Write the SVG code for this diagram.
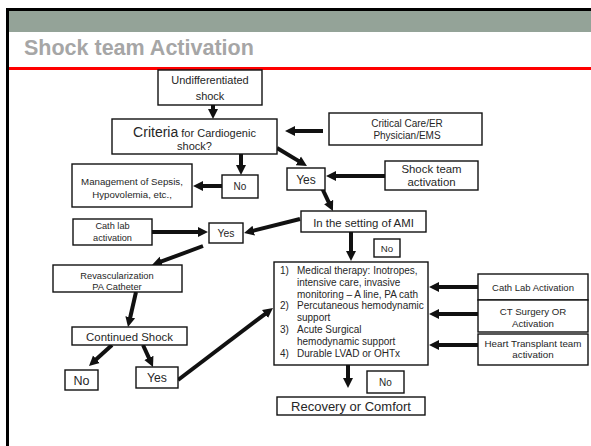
<svg xmlns="http://www.w3.org/2000/svg" width="591" height="446" viewBox="0 0 591 446">
<defs>
<marker id="ah" markerUnits="userSpaceOnUse" markerWidth="11" markerHeight="11" refX="2" refY="5" orient="auto" viewBox="0 0 11 10">
<path d="M0,0 L10,5 L0,10 z" fill="#111"/>
</marker>
</defs>
<style>
text{font-family:"Liberation Sans",Arial,sans-serif;fill:#262626;text-anchor:middle}
.box{fill:#fff;stroke:#111;stroke-width:1.4}
.c line{stroke:#111;stroke-width:4;marker-end:url(#ah)}
.lt{text-anchor:start}
</style>
<rect x="0" y="0" width="591" height="446" fill="#fff"/>
<rect x="6" y="8" width="585" height="3" fill="#000"/>
<rect x="6" y="8" width="3" height="438" fill="#000"/>
<rect x="9" y="11" width="582" height="21" fill="#94a398"/>
<text x="24" y="55" class="lt" style="font-size:21.5px;font-weight:bold;fill:#a6a6a6">Shock team Activation</text>
<rect x="9" y="67" width="582" height="3" fill="#ff0000"/>

<g class="c">
<line x1="213" y1="105" x2="213" y2="111"/>
<line x1="323" y1="131" x2="293" y2="131"/>
<line x1="277" y1="148" x2="300.1" y2="161.9"/>
<line x1="241" y1="154" x2="241" y2="167"/>
<line x1="222" y1="186" x2="201" y2="186"/>
<line x1="385" y1="176" x2="334" y2="176"/>
<line x1="322" y1="188" x2="329.5" y2="203.8"/>
<line x1="300" y1="219" x2="251.8" y2="231.1"/>
<line x1="152" y1="232" x2="200" y2="232"/>
<line x1="203" y1="246" x2="159.5" y2="262.2"/>
<line x1="136" y1="292" x2="129.8" y2="319.2"/>
<line x1="112" y1="345" x2="94.9" y2="360.6"/>
<line x1="143" y1="345" x2="149.7" y2="359.7"/>
<line x1="178" y1="380" x2="266.6" y2="312.8"/>
<line x1="351" y1="232" x2="351" y2="253"/>
<line x1="478" y1="287" x2="437" y2="287"/>
<line x1="478" y1="314" x2="437" y2="314"/>
<line x1="478" y1="345" x2="437" y2="345"/>
<line x1="348" y1="365" x2="348" y2="380"/>
</g>

<g id="undiff"><rect class="box" x="158" y="70" width="104" height="35"/>
<text x="210" y="84" style="font-size:11px">Undifferentiated</text>
<text x="210" y="100" style="font-size:11px">shock</text></g>

<g id="criteria"><rect class="box" x="112" y="119" width="165" height="35"/>
<text x="194.5" y="137"><tspan style="font-size:14px">Criteria</tspan><tspan style="font-size:11px"> for Cardiogenic</tspan></text>
<text x="194.5" y="149.5" style="font-size:11px">shock?</text></g>

<g id="critical"><rect class="box" x="329" y="113" width="153" height="32"/>
<text x="407" y="127" style="font-size:10px">Critical Care/ER</text>
<text x="407" y="138.5" style="font-size:10px">Physician/EMS</text></g>

<g id="no1"><rect class="box" x="222" y="175" width="36" height="23"/>
<text x="240" y="190" style="font-size:10px">No</text></g>

<g id="mgmt"><rect class="box" x="72" y="164" width="120" height="43"/>
<text x="132" y="185" style="font-size:9.7px">Management of Sepsis,</text>
<text x="132" y="198" style="font-size:9.7px">Hypovolemia, etc.,</text></g>

<g id="yes1"><rect class="box" x="287" y="168" width="38" height="22"/>
<text x="306" y="183.5" style="font-size:12px">Yes</text></g>

<g id="shockteam"><rect class="box" x="385" y="161" width="93" height="29"/>
<text x="431.5" y="173" style="font-size:11.4px">Shock team</text>
<text x="431.5" y="186" style="font-size:11.4px">activation</text></g>

<g id="ami"><rect class="box" x="301" y="211" width="125" height="21"/>
<text x="363.5" y="226.5" style="font-size:11.4px">In the setting of AMI</text></g>

<g id="yes2"><rect class="box" x="209" y="223" width="34" height="20"/>
<text x="226" y="236.5" style="font-size:10.4px">Yes</text></g>

<g id="cathlab"><rect class="box" x="73" y="219" width="79" height="26"/>
<text x="112.5" y="228.5" style="font-size:9.2px">Cath lab</text>
<text x="112.5" y="241" style="font-size:9.2px">activation</text></g>

<g id="revasc"><rect class="box" x="53" y="265" width="129" height="27"/>
<text x="117" y="278.5" style="font-size:9.3px">Revascularization</text>
<text x="117" y="289.5" style="font-size:9.3px">PA Catheter</text></g>

<g id="continued"><rect class="box" x="72" y="327" width="115" height="18"/>
<text x="129.5" y="340.5" style="font-size:11.4px">Continued Shock</text></g>

<g id="no2"><rect class="box" x="65" y="370" width="33" height="20"/>
<text x="81.5" y="385" style="font-size:12.5px">No</text></g>

<g id="yes3"><rect class="box" x="136" y="367" width="42" height="21"/>
<text x="157" y="382" style="font-size:12.2px">Yes</text></g>

<g id="no3"><rect class="box" x="374" y="239" width="26" height="18"/>
<text x="387" y="251.5" style="font-size:9.7px">No</text></g>

<g id="therapy"><rect class="box" x="274" y="262" width="154" height="103"/>
<g style="font-size:10px">
<text class="lt" x="280" y="274">1)</text><text class="lt" x="297" y="274">Medical therapy: Inotropes,</text>
<text class="lt" x="297" y="285.8">intensive care, invasive</text>
<text class="lt" x="297" y="297.6">monitoring – A line, PA cath</text>
<text class="lt" x="280" y="309.4">2)</text><text class="lt" x="297" y="309.4">Percutaneous hemodynamic</text>
<text class="lt" x="297" y="321.2">support</text>
<text class="lt" x="280" y="333">3)</text><text class="lt" x="297" y="333">Acute Surgical</text>
<text class="lt" x="297" y="344.8">hemodynamic support</text>
<text class="lt" x="280" y="356.6">4)</text><text class="lt" x="297" y="356.6">Durable LVAD or OHTx</text>
</g></g>

<g id="cathact"><rect class="box" x="478" y="274" width="110" height="26"/>
<text x="533" y="291" style="font-size:9.5px">Cath Lab Activation</text></g>

<g id="ctsurg"><rect class="box" x="478" y="300" width="110" height="32"/>
<text x="533" y="315" style="font-size:9.7px">CT Surgery OR</text>
<text x="533" y="327" style="font-size:9.7px">Activation</text></g>

<g id="heart"><rect class="box" x="478" y="334" width="110" height="31"/>
<text x="533" y="347" style="font-size:9.8px">Heart Transplant team</text>
<text x="533" y="357.5" style="font-size:9.8px">activation</text></g>

<g id="no4"><rect class="box" x="367" y="371" width="37" height="22"/>
<text x="385.5" y="385.5" style="font-size:10px">No</text></g>

<g id="recovery"><rect class="box" x="277" y="397" width="148" height="18"/>
<text x="351" y="410.5" style="font-size:13px">Recovery or Comfort</text></g>
</svg>
